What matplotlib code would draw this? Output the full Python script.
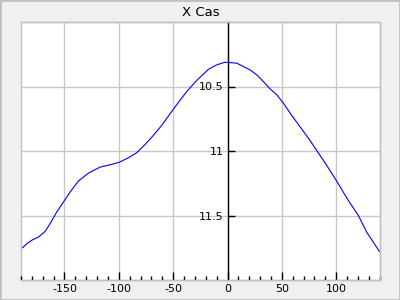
import matplotlib
matplotlib.use("Agg")
import matplotlib.pyplot as plt
from matplotlib.patches import Rectangle
from matplotlib.ticker import MultipleLocator, FixedLocator

plt.rcParams["axes.unicode_minus"] = False

phase = [-188.5, -184.8, -179.3, -174.1, -167.9, -163.3, -157.2, -151.1, -144.9, -137.3,
         -128.1, -117.3, -108.1, -99.5, -91.3, -83.6, -75.9, -68.3, -60.6, -52.9,
         -44.4, -37.5, -28.3, -17.7, -9.9, -2.3, 3.9, 8.5, 14.5, 20.7,
         26.9, 32.9, 39.1, 45.3, 51.3, 58.4, 68.3, 75.3, 82.1, 91.3,
         100.5, 111.2, 120.4, 128.1, 134.2, 139.7]
mag = [11.750, 11.719, 11.688, 11.668, 11.624, 11.564, 11.474, 11.397, 11.319, 11.234,
       11.172, 11.125, 11.107, 11.087, 11.053, 11.014, 10.950, 10.880, 10.802, 10.712,
       10.614, 10.539, 10.453, 10.368, 10.332, 10.312, 10.316, 10.319, 10.345, 10.371,
       10.409, 10.461, 10.518, 10.564, 10.628, 10.716, 10.830, 10.911, 10.996, 11.112,
       11.234, 11.384, 11.500, 11.630, 11.707, 11.779]
title = "X Cas"
xticks = [-150, -100, -50, 0, 50, 100]
yticks = [10.5, 11, 11.5]
ytick_labels = ["10.5", "11", "11.5"]

fig = plt.figure(figsize=(4, 3), dpi=100, facecolor="#f0f0f0")
ax = fig.add_axes([21/400, 1-280/300, 359/400, 258/300])
ax.set_facecolor("white")
ax.plot(phase, mag, color="#0000ff", lw=0.8)
ax.set_xlim(-190, 140.3)
ax.set_ylim(12.0, 10.0)

ax.xaxis.set_major_locator(FixedLocator(xticks))
ax.xaxis.set_minor_locator(MultipleLocator(10))
ax.yaxis.set_major_locator(FixedLocator(yticks))
ax.set_yticklabels(ytick_labels)
ax.grid(True, color="#c8c8c8", lw=1)
ax.set_axisbelow(True)

for s in ["top", "right", "bottom"]:
    ax.spines[s].set_color("#c0c0c0")
    ax.spines[s].set_linewidth(1)
ax.spines["left"].set_position(("data", 0))
ax.spines["left"].set_color("black")
ax.spines["left"].set_linewidth(1)
ax.add_patch(Rectangle((0, 0), 1, 1, transform=ax.transAxes, fill=False,
                       edgecolor="#c0c0c0", lw=1, zorder=0.5, clip_on=False))

ax.tick_params(axis="x", which="major", direction="in", length=6, width=1,
               color="black", labelsize=8, pad=3)
ax.tick_params(axis="x", which="minor", direction="in", length=3, width=1, color="black")
ax.tick_params(axis="y", which="major", direction="in", length=5, width=1,
               color="black", labelsize=8, pad=3)

ax.set_title(title, fontsize=9.5, pad=4)
fig.add_artist(Rectangle((0, 0), 1, 1, transform=fig.transFigure, fill=False,
                         edgecolor="#c0c0c0", lw=2))
fig.savefig("out.png", dpi=100, facecolor=fig.get_facecolor())
